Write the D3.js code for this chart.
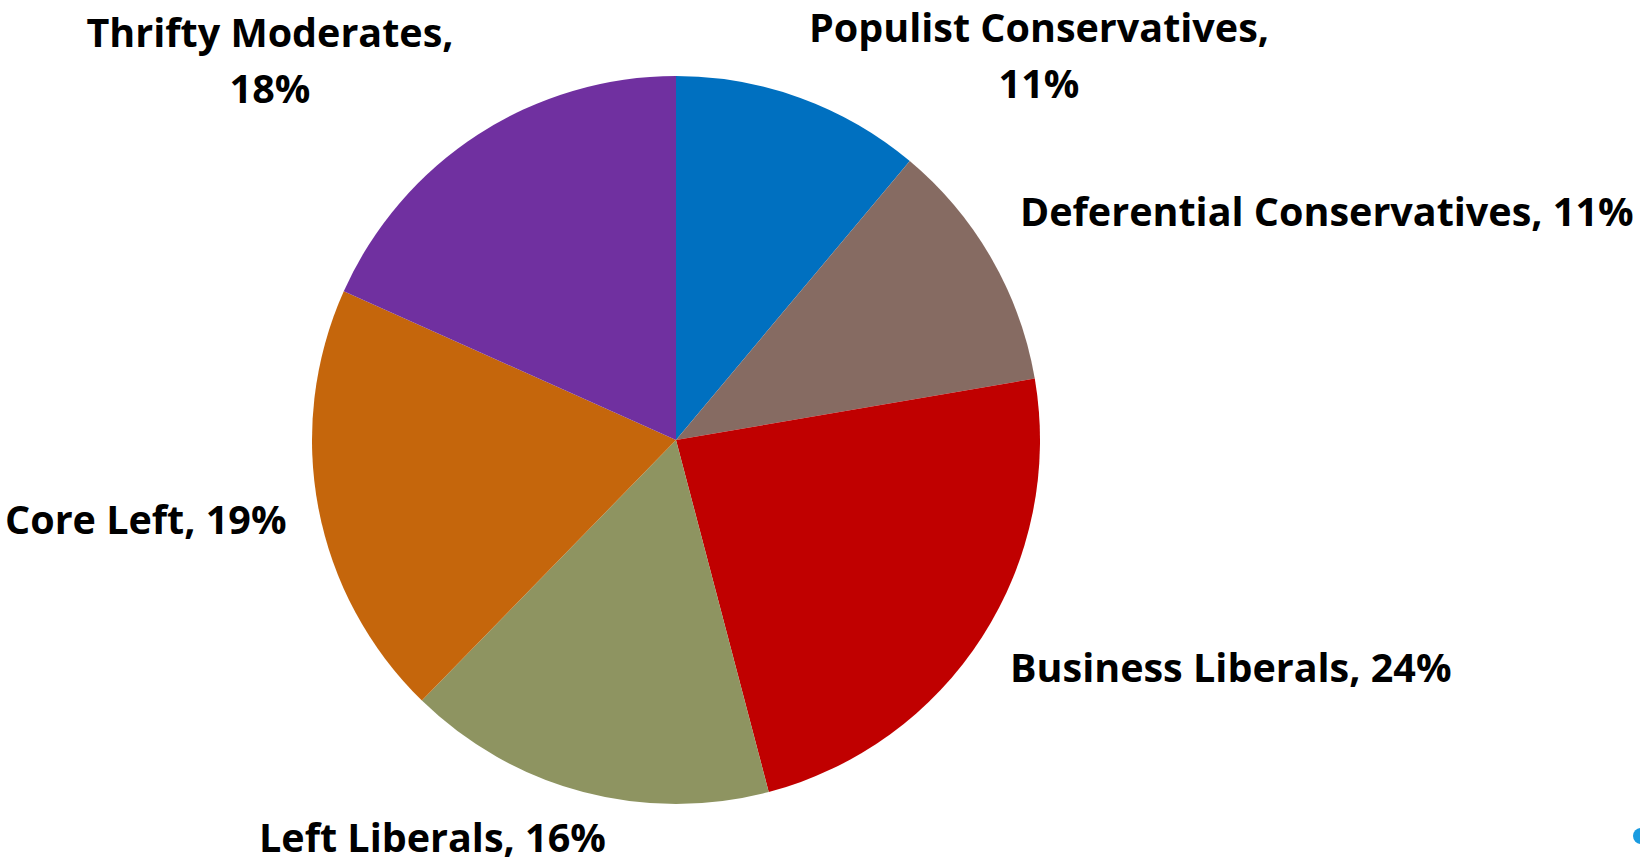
<!DOCTYPE html>
<html><head><meta charset="utf-8">
<script src="https://cdn.jsdelivr.net/npm/d3@7"></script>
<style>html,body{margin:0;padding:0;background:#fff;overflow:hidden}</style>
</head><body>
<svg id="c" width="1640" height="865"></svg>
<script>
const categories = ["Populist Conservatives", "Deferential Conservatives", "Business Liberals", "Left Liberals", "Core Left", "Thrifty Moderates"];
const values = [11.1, 11.2, 23.6, 16.4, 19.4, 18.3];
const colors = ["#0070C0", "#866B62", "#C00000", "#8E9461", "#C5660C", "#7030A0"];
// label layout: [x, y, anchor, twoLines]
const labelPos = [
  [1039, 42, "middle", true],
  [1020, 226, "start", false],
  [1010, 682, "start", false],
  [259, 852, "start", false],
  [5, 534, "start", false],
  [270, 47, "middle", true]
];

const svg = d3.select("#c");
const cx = 676, cy = 440, r = 364;
const pie = d3.pie().sort(null).value(d => d)(values);
const arc = d3.arc().innerRadius(0).outerRadius(r);
const g = svg.append("g").attr("transform", `translate(${cx},${cy})`);
g.selectAll("path").data(pie).join("path")
  .attr("d", arc).attr("fill", (d, i) => colors[i]);

const font = "'Open Sans', Lato, sans-serif";
categories.forEach((c, i) => {
  const [x, y, anchor, two] = labelPos[i];
  const pct = Math.round(values[i]) + "%";
  const t = svg.append("text").attr("x", x).attr("y", y)
    .attr("text-anchor", anchor).attr("font-family", font)
    .style("font-variant-ligatures", "none")
    .attr("font-weight", "bold").attr("font-size", 39.5).attr("fill", "#000");
  if (two) {
    t.append("tspan").attr("x", x).text(c + ",");
    t.append("tspan").attr("x", x).attr("dy", 56).text(pct);
  } else {
    t.text(c + ", " + pct);
  }
});
svg.append("circle").attr("cx", 1641).attr("cy", 836).attr("r", 8).attr("fill", "#1A9BE0");
</script>
</body></html>
